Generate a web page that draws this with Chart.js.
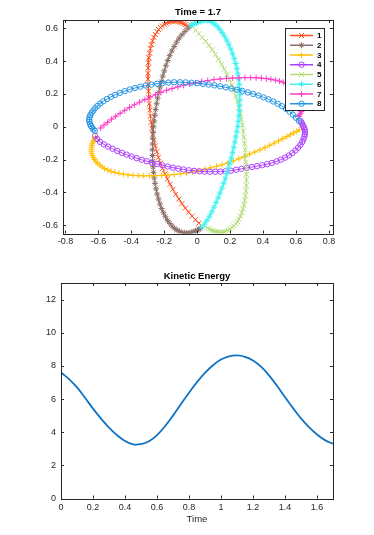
<!DOCTYPE html>
<html>
<head>
<meta charset="utf-8">
<script src="https://cdn.jsdelivr.net/npm/chart.js@4/dist/chart.umd.min.js"></script>
<style>
  html, body { margin: 0; padding: 0; background: #fff; }
  #wrap { position: relative; width: 374px; height: 535px; }
  #orbits { position: absolute; left: 0; top: 0; }
  #energy { position: absolute; left: 0; top: 270px; }
</style>
</head>
<body>
<div id="wrap">
  <canvas id="orbits" width="374" height="262"></canvas>
  <canvas id="energy" width="374" height="265"></canvas>
</div>
<script>
// body trajectories [x, y]
const body1 = [[-0.062,0.616],[-0.072,0.622],[-0.082,0.628],[-0.093,0.633],[-0.104,0.637],[-0.116,0.640],[-0.128,0.642],[-0.140,0.643],[-0.152,0.642],[-0.164,0.640],[-0.176,0.636],[-0.188,0.630],[-0.200,0.623],[-0.212,0.614],[-0.223,0.604],[-0.234,0.592],[-0.244,0.578],[-0.254,0.562],[-0.263,0.544],[-0.271,0.523],[-0.278,0.500],[-0.284,0.475],[-0.289,0.448],[-0.293,0.420],[-0.296,0.390],[-0.298,0.358],[-0.299,0.325],[-0.299,0.290],[-0.298,0.254],[-0.296,0.216],[-0.294,0.178],[-0.291,0.140],[-0.288,0.102],[-0.284,0.064],[-0.280,0.027],[-0.275,-0.010],[-0.269,-0.046],[-0.262,-0.082],[-0.254,-0.117],[-0.245,-0.152],[-0.235,-0.186],[-0.223,-0.220],[-0.210,-0.253],[-0.196,-0.286],[-0.181,-0.318],[-0.165,-0.350],[-0.148,-0.381],[-0.130,-0.411],[-0.111,-0.440],[-0.092,-0.468],[-0.072,-0.495],[-0.052,-0.520],[-0.031,-0.544],[-0.010,-0.566],[0.010,-0.587]];
const body2 = [[-0.036,0.618],[-0.055,0.600],[-0.074,0.581],[-0.092,0.561],[-0.109,0.540],[-0.125,0.515],[-0.140,0.489],[-0.154,0.462],[-0.167,0.433],[-0.179,0.403],[-0.190,0.372],[-0.200,0.340],[-0.209,0.308],[-0.218,0.275],[-0.226,0.242],[-0.233,0.208],[-0.240,0.174],[-0.246,0.140],[-0.252,0.105],[-0.257,0.070],[-0.261,0.035],[-0.265,0.000],[-0.268,-0.035],[-0.270,-0.070],[-0.271,-0.105],[-0.272,-0.140],[-0.271,-0.175],[-0.270,-0.210],[-0.268,-0.244],[-0.265,-0.278],[-0.261,-0.312],[-0.256,-0.345],[-0.250,-0.378],[-0.243,-0.410],[-0.235,-0.440],[-0.226,-0.470],[-0.216,-0.498],[-0.205,-0.524],[-0.193,-0.548],[-0.180,-0.570],[-0.166,-0.589],[-0.152,-0.605],[-0.137,-0.619],[-0.122,-0.630],[-0.107,-0.638],[-0.092,-0.644],[-0.078,-0.647],[-0.064,-0.648],[-0.050,-0.647],[-0.037,-0.644],[-0.024,-0.640],[-0.012,-0.635],[0.000,-0.630],[0.010,-0.625],[0.018,-0.620]];
const body3 = [[-0.616,-0.062],[-0.622,-0.072],[-0.628,-0.082],[-0.633,-0.093],[-0.637,-0.104],[-0.640,-0.116],[-0.642,-0.128],[-0.643,-0.140],[-0.642,-0.152],[-0.640,-0.164],[-0.636,-0.176],[-0.630,-0.188],[-0.623,-0.200],[-0.614,-0.212],[-0.604,-0.223],[-0.592,-0.234],[-0.578,-0.244],[-0.562,-0.254],[-0.544,-0.263],[-0.523,-0.271],[-0.500,-0.278],[-0.475,-0.284],[-0.448,-0.289],[-0.420,-0.293],[-0.390,-0.296],[-0.358,-0.298],[-0.325,-0.299],[-0.290,-0.299],[-0.254,-0.298],[-0.216,-0.296],[-0.178,-0.294],[-0.140,-0.291],[-0.102,-0.287],[-0.064,-0.282],[-0.027,-0.274],[0.010,-0.267],[0.046,-0.259],[0.082,-0.250],[0.117,-0.241],[0.152,-0.231],[0.186,-0.220],[0.220,-0.208],[0.253,-0.195],[0.286,-0.181],[0.318,-0.167],[0.350,-0.154],[0.381,-0.141],[0.411,-0.128],[0.440,-0.113],[0.468,-0.099],[0.495,-0.086],[0.520,-0.073],[0.544,-0.060],[0.566,-0.048],[0.587,-0.037],[0.605,-0.028],[0.620,-0.018]];
const body4 = [[-0.620,-0.055],[-0.607,-0.075],[-0.590,-0.092],[-0.567,-0.107],[-0.541,-0.121],[-0.514,-0.134],[-0.486,-0.147],[-0.457,-0.159],[-0.428,-0.170],[-0.398,-0.181],[-0.368,-0.191],[-0.337,-0.201],[-0.306,-0.210],[-0.275,-0.219],[-0.243,-0.227],[-0.211,-0.235],[-0.179,-0.242],[-0.147,-0.249],[-0.115,-0.255],[-0.083,-0.260],[-0.051,-0.265],[-0.019,-0.268],[0.013,-0.271],[0.045,-0.273],[0.077,-0.274],[0.109,-0.274],[0.141,-0.273],[0.173,-0.271],[0.205,-0.268],[0.237,-0.262],[0.269,-0.256],[0.301,-0.250],[0.333,-0.245],[0.364,-0.240],[0.395,-0.234],[0.425,-0.228],[0.454,-0.220],[0.482,-0.211],[0.509,-0.200],[0.534,-0.188],[0.557,-0.175],[0.578,-0.160],[0.597,-0.144],[0.613,-0.127],[0.627,-0.110],[0.638,-0.093],[0.646,-0.076],[0.651,-0.060],[0.654,-0.045],[0.655,-0.031],[0.653,-0.018],[0.649,-0.006],[0.644,0.005],[0.639,0.015],[0.634,0.025],[0.629,0.034]];
const body5 = [[0.062,-0.616],[0.072,-0.622],[0.082,-0.628],[0.093,-0.633],[0.104,-0.637],[0.116,-0.640],[0.128,-0.642],[0.140,-0.643],[0.152,-0.642],[0.164,-0.640],[0.176,-0.636],[0.188,-0.630],[0.200,-0.623],[0.212,-0.614],[0.223,-0.604],[0.234,-0.592],[0.244,-0.578],[0.254,-0.562],[0.263,-0.544],[0.271,-0.523],[0.278,-0.500],[0.284,-0.475],[0.289,-0.448],[0.293,-0.420],[0.296,-0.390],[0.298,-0.358],[0.299,-0.325],[0.299,-0.290],[0.298,-0.254],[0.296,-0.216],[0.294,-0.178],[0.291,-0.140],[0.288,-0.102],[0.284,-0.064],[0.280,-0.027],[0.275,0.010],[0.269,0.046],[0.262,0.082],[0.254,0.117],[0.245,0.152],[0.235,0.186],[0.223,0.220],[0.210,0.253],[0.196,0.286],[0.181,0.318],[0.165,0.350],[0.148,0.381],[0.130,0.411],[0.111,0.440],[0.092,0.468],[0.072,0.495],[0.052,0.520],[0.031,0.544],[0.010,0.566],[-0.010,0.587]];
const body6 = [[0.030,-0.612],[0.045,-0.593],[0.060,-0.570],[0.075,-0.545],[0.089,-0.518],[0.102,-0.490],[0.115,-0.461],[0.127,-0.432],[0.139,-0.403],[0.150,-0.374],[0.161,-0.344],[0.171,-0.314],[0.181,-0.283],[0.190,-0.252],[0.199,-0.221],[0.207,-0.190],[0.215,-0.158],[0.222,-0.126],[0.229,-0.094],[0.235,-0.062],[0.241,-0.030],[0.246,0.002],[0.250,0.034],[0.253,0.066],[0.256,0.098],[0.258,0.130],[0.259,0.162],[0.259,0.194],[0.258,0.226],[0.256,0.258],[0.252,0.290],[0.247,0.322],[0.241,0.354],[0.234,0.385],[0.225,0.415],[0.215,0.445],[0.204,0.474],[0.192,0.502],[0.179,0.528],[0.165,0.552],[0.151,0.574],[0.137,0.594],[0.122,0.611],[0.107,0.625],[0.092,0.636],[0.077,0.643],[0.062,0.647],[0.048,0.648],[0.034,0.646],[0.021,0.642],[0.008,0.637],[-0.004,0.632],[-0.015,0.627],[-0.026,0.622],[-0.036,0.618]];
const body7 = [[0.616,0.062],[0.622,0.072],[0.628,0.082],[0.633,0.093],[0.637,0.104],[0.640,0.116],[0.642,0.128],[0.643,0.140],[0.642,0.152],[0.640,0.164],[0.636,0.176],[0.630,0.188],[0.623,0.200],[0.614,0.212],[0.604,0.223],[0.592,0.234],[0.578,0.244],[0.562,0.254],[0.544,0.263],[0.523,0.271],[0.500,0.278],[0.475,0.284],[0.448,0.289],[0.420,0.293],[0.390,0.296],[0.358,0.298],[0.325,0.299],[0.290,0.299],[0.254,0.298],[0.216,0.296],[0.178,0.294],[0.140,0.291],[0.102,0.287],[0.064,0.281],[0.027,0.275],[-0.010,0.268],[-0.046,0.261],[-0.082,0.252],[-0.117,0.243],[-0.152,0.233],[-0.186,0.222],[-0.220,0.209],[-0.253,0.195],[-0.286,0.180],[-0.318,0.165],[-0.350,0.150],[-0.381,0.134],[-0.411,0.117],[-0.440,0.100],[-0.468,0.082],[-0.495,0.064],[-0.520,0.046],[-0.544,0.027],[-0.566,0.010],[-0.587,-0.008]];
const body8 = [[0.618,0.036],[0.600,0.055],[0.581,0.074],[0.561,0.092],[0.540,0.109],[0.515,0.125],[0.489,0.140],[0.462,0.154],[0.433,0.167],[0.403,0.179],[0.372,0.190],[0.340,0.200],[0.308,0.209],[0.275,0.218],[0.242,0.226],[0.208,0.233],[0.174,0.240],[0.140,0.246],[0.105,0.252],[0.070,0.257],[0.035,0.261],[0.000,0.265],[-0.035,0.268],[-0.070,0.270],[-0.105,0.271],[-0.140,0.271],[-0.175,0.269],[-0.210,0.266],[-0.244,0.262],[-0.278,0.257],[-0.312,0.251],[-0.345,0.244],[-0.378,0.236],[-0.410,0.227],[-0.440,0.217],[-0.470,0.206],[-0.498,0.194],[-0.524,0.182],[-0.548,0.169],[-0.570,0.155],[-0.589,0.141],[-0.605,0.127],[-0.619,0.113],[-0.631,0.099],[-0.641,0.085],[-0.649,0.071],[-0.654,0.057],[-0.656,0.043],[-0.655,0.030],[-0.651,0.017],[-0.645,0.005],[-0.638,-0.006],[-0.630,-0.016],[-0.622,-0.025]];

const bodyLabels = ['1', '2', '3', '4', '5', '6', '7', '8'];
const bodyColors = ['#ff4d1a', '#8c7168', '#ffbf00', '#ad40ff', '#b3dc74', '#3ff2f2', '#ff3ecb', '#2394e4'];
const bodyMarkers = ['crossRot', 'star', 'cross', 'circle', 'crossRot', 'star', 'cross', 'circle'];
const bodyRadius = [3.5, 3, 3, 2.7, 3.5, 3, 3, 2.7];
const orbitXTicks = [-0.8, -0.6, -0.4, -0.2, 0, 0.2, 0.4, 0.6, 0.8];
const orbitYTicks = [-0.6, -0.4, -0.2, 0, 0.2, 0.4, 0.6];

// kinetic energy vs time
const time = [0, 0.05, 0.1, 0.15, 0.2, 0.25, 0.3, 0.35, 0.4, 0.45, 0.5, 0.55, 0.6, 0.65, 0.7, 0.75, 0.8, 0.85, 0.9, 0.95, 1.0, 1.05, 1.1, 1.15, 1.2, 1.25, 1.3, 1.35, 1.4, 1.45, 1.5, 1.55, 1.6, 1.65, 1.7];
const kinetic = [7.60, 7.20, 6.70, 6.08, 5.42, 4.82, 4.28, 3.82, 3.47, 3.27, 3.28, 3.45, 3.82, 4.36, 5.00, 5.70, 6.38, 7.02, 7.58, 8.04, 8.38, 8.57, 8.63, 8.55, 8.33, 7.95, 7.43, 6.80, 6.12, 5.45, 4.83, 4.30, 3.86, 3.52, 3.30];
const energyXTicks = [0, 0.2, 0.4, 0.6, 0.8, 1, 1.2, 1.4, 1.6];
const energyYTicks = [0, 2, 4, 6, 8, 10, 12];

Chart.defaults.font.family = '"Liberation Sans", Arial, sans-serif';
Chart.defaults.color = '#262626';

const axisColor = '#262626';

// box frame with inward ticks on all four sides, plus title
const framePlugin = {
  id: 'frame',
  afterDraw(chart, args, opts) {
    const { ctx, chartArea: a, scales } = chart;
    ctx.save();
    ctx.strokeStyle = axisColor;
    ctx.lineWidth = 1;
    ctx.strokeRect(Math.round(a.left) + 0.5, Math.round(a.top) + 0.5,
      Math.round(a.right - a.left), Math.round(a.bottom - a.top));
    ctx.beginPath();
    scales.x.ticks.forEach(tk => {
      const px = Math.round(scales.x.getPixelForValue(tk.value)) + 0.5;
      ctx.moveTo(px, a.bottom); ctx.lineTo(px, a.bottom - 3);
      ctx.moveTo(px, a.top); ctx.lineTo(px, a.top + 3);
    });
    scales.y.ticks.forEach(tk => {
      const py = Math.round(scales.y.getPixelForValue(tk.value)) + 0.5;
      ctx.moveTo(a.left, py); ctx.lineTo(a.left + 3, py);
      ctx.moveTo(a.right, py); ctx.lineTo(a.right - 3, py);
    });
    ctx.stroke();
    ctx.fillStyle = '#000';
    ctx.font = 'bold 9.5px "Liberation Sans", Arial, sans-serif';
    ctx.textAlign = 'center';
    ctx.textBaseline = 'middle';
    ctx.fillText(opts.text, (a.left + a.right) / 2, a.top - opts.gap);
    ctx.restore();
  }
};

function drawMarker(ctx, style, r, x, y) {
  ctx.beginPath();
  if (style === 'circle') {
    ctx.arc(x, y, r, 0, Math.PI * 2);
  } else {
    const d = r * Math.SQRT1_2;
    if (style === 'cross' || style === 'star') {
      ctx.moveTo(x - r, y); ctx.lineTo(x + r, y);
      ctx.moveTo(x, y - r); ctx.lineTo(x, y + r);
    }
    if (style === 'crossRot' || style === 'star') {
      ctx.moveTo(x - d, y - d); ctx.lineTo(x + d, y + d);
      ctx.moveTo(x - d, y + d); ctx.lineTo(x + d, y - d);
    }
  }
  ctx.stroke();
}

const legendPlugin = {
  id: 'boxLegend',
  afterDraw(chart) {
    const ctx = chart.ctx;
    const x0 = 285, y0 = 28, w = 39, h = 82;
    ctx.save();
    ctx.fillStyle = '#fff';
    ctx.fillRect(x0, y0, w, h);
    ctx.strokeStyle = axisColor;
    ctx.lineWidth = 1;
    ctx.strokeRect(x0 + 0.5, y0 + 0.5, w, h);
    ctx.font = 'bold 8px "Liberation Sans", Arial, sans-serif';
    ctx.textAlign = 'left';
    ctx.textBaseline = 'middle';
    chart.data.datasets.forEach((ds, i) => {
      const y = y0 + 7.5 + i * 9.75;
      ctx.strokeStyle = ds.borderColor;
      ctx.lineWidth = 1.5;
      ctx.beginPath();
      ctx.moveTo(x0 + 5, y); ctx.lineTo(x0 + 28, y);
      ctx.stroke();
      ctx.lineWidth = 1;
      drawMarker(ctx, ds.pointStyle, ds.pointRadius, x0 + 16.5, y);
      ctx.fillStyle = '#000';
      ctx.fillText(ds.label, x0 + 32, y + 0.5);
    });
    ctx.restore();
  }
};

const bodies = [body1, body2, body3, body4, body5, body6, body7, body8];

new Chart(document.getElementById('orbits'), {
  type: 'scatter',
  data: {
    datasets: bodies.map((pts, i) => ({
      label: bodyLabels[i],
      data: pts.map(p => ({ x: p[0], y: p[1] })),
      showLine: true,
      borderColor: bodyColors[i],
      backgroundColor: 'rgba(0,0,0,0)',
      borderWidth: 1,
      pointStyle: bodyMarkers[i],
      pointRadius: bodyRadius[i],
      pointBorderWidth: 1,
      pointBorderColor: bodyColors[i],
      pointBackgroundColor: 'rgba(0,0,0,0)',
      order: bodies.length - i
    }))
  },
  options: {
    responsive: false,
    animation: false,
    devicePixelRatio: 1,
    layout: { padding: { top: 20, right: 41, left: 0, bottom: 0 } },
    plugins: {
      legend: { display: false },
      tooltip: { enabled: false },
      frame: { text: 'Time = 1.7', gap: 8 }
    },
    scales: {
      x: {
        type: 'linear', min: -0.815, max: 0.825,
        grid: { display: false, drawTicks: false },
        border: { display: false },
        ticks: { font: { size: 9 }, color: axisColor, padding: 3, maxRotation: 0, callback: v => String(v) },
        afterBuildTicks: s => { s.ticks = orbitXTicks.map(v => ({ value: v })); },
        afterFit: s => { s.height = 28.5; }
      },
      y: {
        type: 'linear', min: -0.65, max: 0.65,
        grid: { display: false, drawTicks: false },
        border: { display: false },
        ticks: { font: { size: 9 }, color: axisColor, padding: 5, callback: v => String(v) },
        afterBuildTicks: s => { s.ticks = orbitYTicks.map(v => ({ value: v })); },
        afterFit: s => { s.width = 63; }
      }
    }
  },
  plugins: [framePlugin, legendPlugin]
});

new Chart(document.getElementById('energy'), {
  type: 'scatter',
  data: {
    datasets: [{
      label: 'Kinetic Energy',
      data: time.map((t, i) => ({ x: t, y: kinetic[i] })),
      showLine: true,
      borderColor: '#0f72c2',
      borderWidth: 1.8,
      pointRadius: 0,
      tension: 0.4
    }]
  },
  options: {
    responsive: false,
    animation: false,
    devicePixelRatio: 1,
    layout: { padding: { top: 13, right: 41, left: 0, bottom: 0 } },
    plugins: {
      legend: { display: false },
      tooltip: { enabled: false },
      frame: { text: 'Kinetic Energy', gap: 7 }
    },
    scales: {
      x: {
        type: 'linear', min: 0, max: 1.7,
        grid: { display: false, drawTicks: false },
        border: { display: false },
        title: { display: true, text: 'Time', font: { size: 9.5 }, color: axisColor, padding: { top: 0, bottom: 10 } },
        ticks: { font: { size: 9 }, color: axisColor, padding: 4, maxRotation: 0, callback: v => String(v) },
        afterBuildTicks: s => { s.ticks = energyXTicks.map(v => ({ value: v })); },
        afterFit: s => { s.height = 36.5; }
      },
      y: {
        type: 'linear', min: 0, max: 13,
        grid: { display: false, drawTicks: false },
        border: { display: false },
        ticks: { font: { size: 9 }, color: axisColor, padding: 5, callback: v => String(v) },
        afterBuildTicks: s => { s.ticks = energyYTicks.map(v => ({ value: v })); },
        afterFit: s => { s.width = 61; }
      }
    }
  },
  plugins: [framePlugin]
});
</script>
</body>
</html>
